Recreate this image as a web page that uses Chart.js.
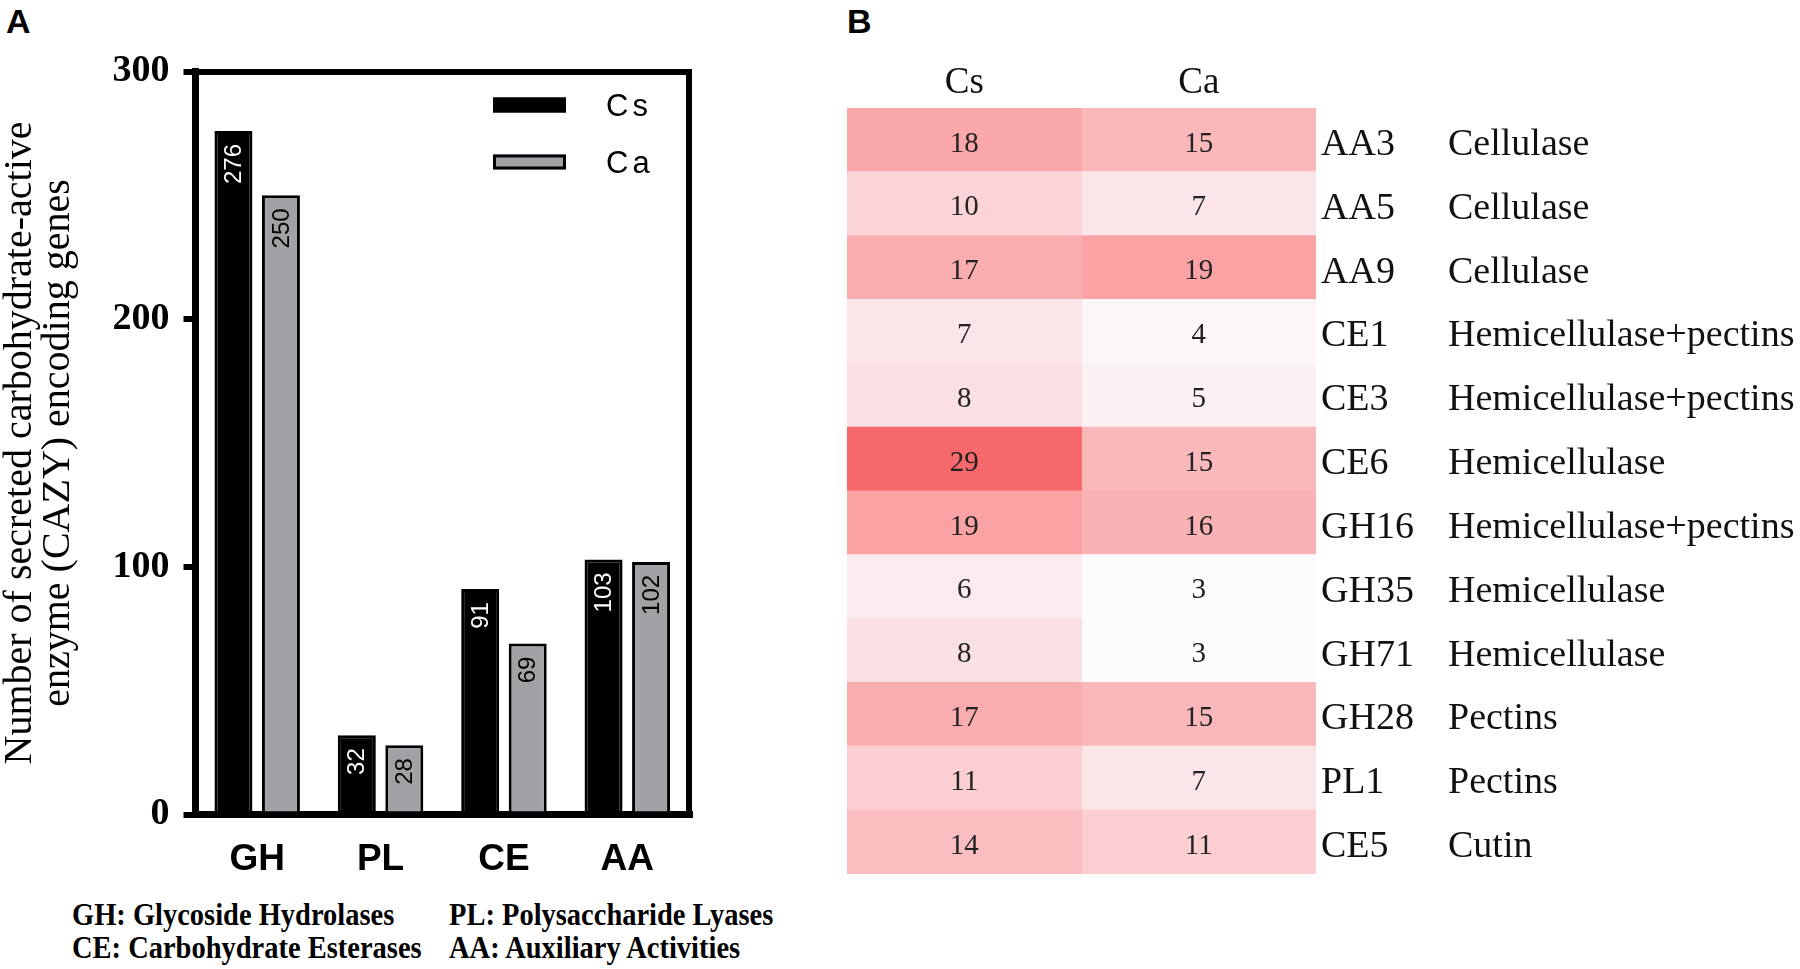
<!DOCTYPE html>
<html>
<head>
<meta charset="utf-8">
<script src="https://cdn.jsdelivr.net/npm/chart.js@4.4.1/dist/chart.umd.min.js"></script>
<style>
  html, body { margin: 0; padding: 0; background: #fff; }
  body { width: 1800px; height: 969px; position: relative; overflow: hidden; }
  .tag { position: absolute; font: bold 34px Arial, "Liberation Sans", sans-serif; line-height: 34px; color: #000; }
  .box { position: absolute; }
  .note { position: absolute; font: bold 32px "Times New Roman", "Liberation Serif", serif; line-height: 32px;
          white-space: nowrap; transform: scaleX(0.89); transform-origin: left center; color: #000; }
</style>
</head>
<body>
<div class="tag" style="left:6px;top:4px">A</div>
<div class="tag" style="left:847px;top:4px">B</div>
<div class="box" style="left:0;top:0;width:740px;height:880px"><canvas id="bars"></canvas></div>
<div class="box" style="left:840px;top:0;width:960px;height:969px"><canvas id="heat"></canvas></div>
<div class="note" style="left:72px;top:898px">GH: Glycoside Hydrolases</div>
<div class="note" style="left:449px;top:898px">PL: Polysaccharide Lyases</div>
<div class="note" style="left:72px;top:931px">CE: Carbohydrate Esterases</div>
<div class="note" style="left:449px;top:931px">AA: Auxiliary Activities</div>
<script>
// Panel A: secreted CAZY genes per family
const families = ["GH", "PL", "CE", "AA"];
const csCounts = [276, 32, 91, 103];
const caCounts = [250, 28, 69, 102];
const yTicks = [0, 100, 200, 300];

// Panel B: heatmap of selected families
const heatColumns = ["Cs", "Ca"];
const heatRows = ["AA3", "AA5", "AA9", "CE1", "CE3", "CE6", "GH16", "GH35", "GH71", "GH28", "PL1", "CE5"];
const heatFunctions = [
  "Cellulase", "Cellulase", "Cellulase",
  "Hemicellulase+pectins", "Hemicellulase+pectins", "Hemicellulase",
  "Hemicellulase+pectins", "Hemicellulase", "Hemicellulase",
  "Pectins", "Pectins", "Cutin",
];
const heatCs = [18, 10, 17, 7, 8, 29, 19, 6, 8, 17, 11, 14];
const heatCa = [15, 7, 19, 4, 5, 15, 16, 3, 3, 15, 7, 11];

Chart.defaults.color = "#000";
Chart.defaults.font.family = '"Times New Roman", "Liberation Serif", serif';

const serif = '"Times New Roman", "Liberation Serif", serif';
const sans = 'Arial, "Liberation Sans", sans-serif';

// value written vertically near the top of each bar
const barValues = {
  id: "barValues",
  afterDatasetsDraw(chart) {
    const ctx = chart.ctx;
    chart.data.datasets.forEach((ds, i) => {
      chart.getDatasetMeta(i).data.forEach((bar, j) => {
        ctx.save();
        ctx.translate(bar.x, bar.y + 13);
        ctx.rotate(-Math.PI / 2);
        ctx.font = "24px " + sans;
        ctx.fillStyle = i === 0 ? "#fff" : "#000";
        ctx.textAlign = "right";
        ctx.textBaseline = "middle";
        ctx.fillText(ds.data[j], 0, 1);
        ctx.restore();
      });
    });
  },
};

// legend drawn inside the plot, top right
const boxLegend = {
  id: "boxLegend",
  afterDraw(chart) {
    const { ctx, chartArea } = chart;
    chart.data.datasets.forEach((ds, i) => {
      const x = chartArea.right - 196;
      const y = chartArea.top + 26 + i * 57;
      ctx.save();
      ctx.fillStyle = ds.backgroundColor;
      ctx.fillRect(x, y, 73, 15);
      ctx.lineWidth = 3;
      ctx.strokeStyle = "#000";
      ctx.strokeRect(x + 1.5, y + 1.5, 70, 12);
      ctx.font = "31px " + sans;
      ctx.letterSpacing = "4px";
      ctx.fillStyle = "#000";
      ctx.textBaseline = "middle";
      ctx.fillText(ds.label, x + 113, y + 10);
      ctx.restore();
    });
  },
};

new Chart(document.getElementById("bars"), {
  type: "bar",
  data: {
    labels: families,
    datasets: [
      { label: "Cs", data: csCounts, backgroundColor: "#000", borderColor: "#000", borderWidth: 3 },
      { label: "Ca", data: caCounts, backgroundColor: "#a2a2a6", borderColor: "#000", borderWidth: 3 },
    ],
  },
  options: {
    responsive: true,
    maintainAspectRatio: false,
    animation: false,
    layout: { padding: { left: 0, top: 71.5, right: 51, bottom: 5.5 } },
    datasets: { bar: { categoryPercentage: 0.77, barPercentage: 0.8 } },
    plugins: { legend: { display: false }, tooltip: { enabled: false } },
    scales: {
      x: {
        grid: { display: false, drawTicks: false, lineWidth: 7 },
        border: { display: true, width: 7, color: "#000" },
        ticks: { font: { family: sans, size: 37, weight: "bold" }, padding: 23 },
        afterFit: (s) => { s.height = 60; },
      },
      x2: {
        type: "category",
        position: "top",
        grid: { display: false, drawTicks: false, lineWidth: 6 },
        border: { display: true, width: 6, color: "#000" },
        ticks: { display: false },
      },
      y: {
        min: 0,
        max: 300,
        afterBuildTicks: (s) => { s.ticks = yTicks.map((v) => ({ value: v })); },
        grid: { drawOnChartArea: false, drawTicks: true, tickLength: 12, tickWidth: 6, tickColor: "#000", lineWidth: 6 },
        border: { display: true, width: 7, color: "#000" },
        ticks: { font: { family: serif, size: 38, weight: "bold" }, padding: 14 },
        title: {
          display: true,
          text: ["Number of secreted carbohydrate-active", "enzyme (CAZY) encoding genes"],
          font: { family: serif, size: 40, lineHeight: 0.95 },
          padding: { top: 1, bottom: 0 },
        },
        afterFit: (s) => { s.width = 195.5; },
      },
      y2: {
        position: "right",
        min: 0,
        max: 300,
        grid: { display: false, drawTicks: false, lineWidth: 6 },
        border: { display: true, width: 6, color: "#000" },
        ticks: { display: false },
      },
    },
  },
  plugins: [barValues, boxLegend],
});

// Excel style white -> red colour scale
const heatLo = Math.min(...heatCs, ...heatCa);
const heatHi = Math.max(...heatCs, ...heatCa);
function heatColor(v) {
  const t = (v - heatLo) / (heatHi - heatLo);
  const r = Math.round(252 + (248 - 252) * t);
  const g = Math.round(252 + (105 - 252) * t);
  const b = Math.round(255 + (107 - 255) * t);
  return `rgb(${r},${g},${b})`;
}

const cellValues = {
  id: "cellValues",
  afterDatasetsDraw(chart) {
    const ctx = chart.ctx;
    chart.data.datasets.forEach((ds, i) => {
      chart.getDatasetMeta(i).data.forEach((cell, j) => {
        const c = cell.getCenterPoint();
        ctx.save();
        ctx.font = "29px " + serif;
        ctx.fillStyle = "#222";
        ctx.textAlign = "center";
        ctx.textBaseline = "middle";
        ctx.fillText(ds.values[j], c.x, c.y + 4);
        ctx.restore();
      });
    });
  },
};

new Chart(document.getElementById("heat"), {
  type: "bar",
  data: {
    labels: heatRows,
    datasets: [
      { label: "Cs", data: heatCs.map(() => [0, 1]), values: heatCs, backgroundColor: heatCs.map(heatColor) },
      { label: "Ca", data: heatCa.map(() => [1, 2]), values: heatCa, backgroundColor: heatCa.map(heatColor) },
    ],
  },
  options: {
    indexAxis: "y",
    responsive: true,
    maintainAspectRatio: false,
    animation: false,
    layout: { padding: { left: 7, top: 0, right: 0, bottom: 95 } },
    datasets: { bar: { grouped: false, barPercentage: 1, categoryPercentage: 1, borderWidth: 0, inflateAmount: 0.5 } },
    plugins: { legend: { display: false }, tooltip: { enabled: false } },
    scales: {
      x: {
        type: "linear",
        position: "top",
        min: 0,
        max: 2,
        afterBuildTicks: (s) => { s.ticks = heatColumns.map((c, i) => ({ value: i + 0.5 })); },
        ticks: { callback: (v, i) => heatColumns[i], font: { family: serif, size: 37 }, color: "#111", padding: 3 },
        grid: { display: false, drawTicks: false },
        border: { display: false },
        afterFit: (s) => { s.height = 108; },
      },
      y: {
        position: "right",
        grid: { display: false, drawTicks: false },
        border: { display: false },
        ticks: { crossAlign: "near", padding: 5, labelOffset: 5, font: { family: serif, size: 38 }, color: "#111" },
        afterFit: (s) => { s.width = 132; },
      },
      y2: {
        type: "category",
        labels: heatFunctions,
        offset: true,
        position: "right",
        weight: 1,
        grid: { display: false, drawTicks: false },
        border: { display: false },
        ticks: { crossAlign: "near", padding: 0, labelOffset: 5, font: { family: serif, size: 38 }, color: "#111", autoSkip: false },
        afterFit: (s) => { s.width = 352; },
      },
    },
  },
  plugins: [cellValues],
});
</script>
</body>
</html>
